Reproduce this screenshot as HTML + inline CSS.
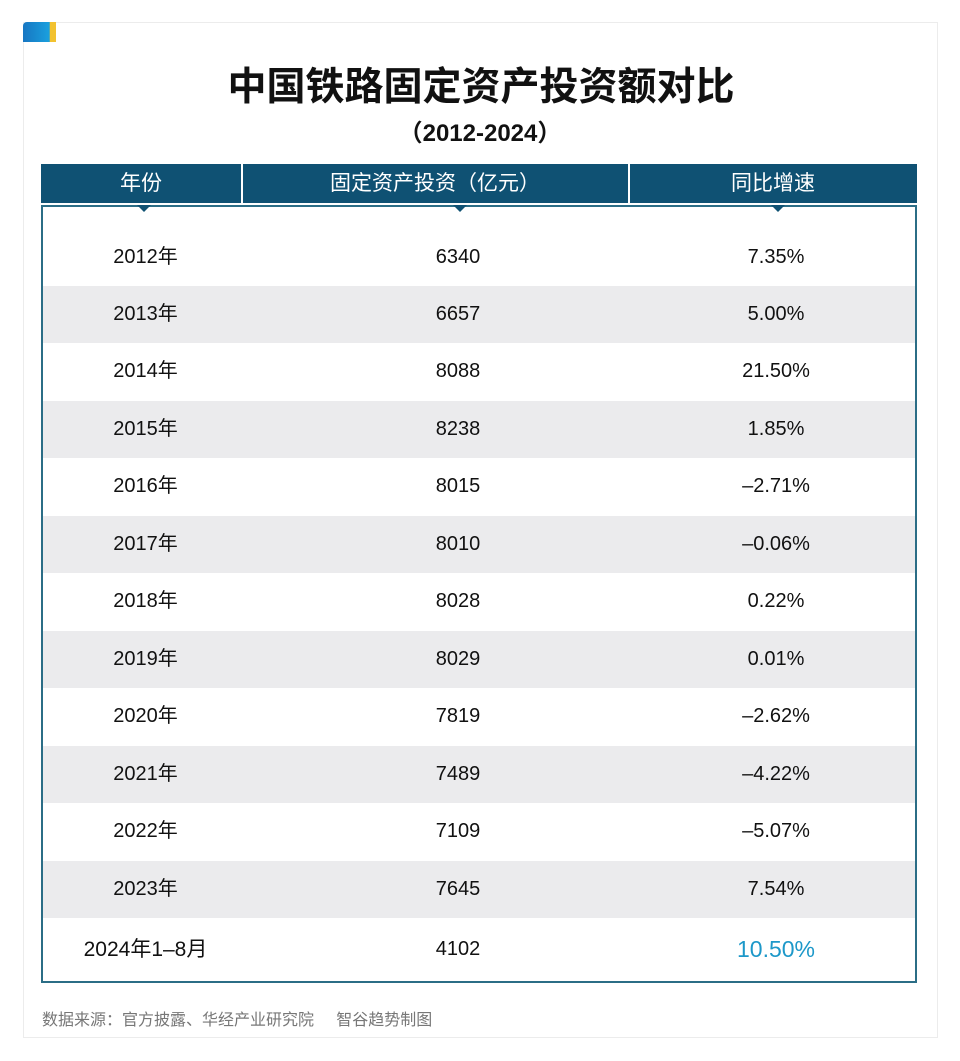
<!DOCTYPE html>
<html><head><meta charset="utf-8"><style>
body{margin:0;width:960px;height:1061px;background:#fff;font-family:"Liberation Sans","Noto Sans CJK SC",sans-serif;position:relative;overflow:hidden}
.card{position:absolute;left:23px;top:22px;width:915px;height:1016px;border:1px solid #ececec;box-sizing:border-box;background:#fff}
.logo{position:absolute;left:23px;top:22px;width:33px;height:20px;border-radius:4px 0 0 0;background:linear-gradient(90deg,#1776c2 0,#1aa0de 80%,#f2c230 82%,#f2c230 100%)}
.title{position:absolute;left:0;width:962px;top:56px;text-align:center;font-size:39px;font-weight:bold;color:#111}
.sub{position:absolute;left:0;width:960px;top:113px;text-align:center;font-size:24px;font-weight:bold;color:#111}
.head{position:absolute;left:41px;top:164px;width:876px;height:39px;background:#0f5173;color:#fff;font-size:21px}
.head div{position:absolute;top:0;height:39px;line-height:39px;text-align:center}
.body{position:absolute;left:41px;top:205px;width:876px;height:778px;border:2px solid #2b6d86;box-sizing:border-box}
.row{position:absolute;left:0;width:872px;font-size:20px;color:#111}
.row div{position:absolute;top:0;text-align:center;height:100%}
.gray{background:#ebebed}
.arrow{position:absolute;top:205px;width:0;height:0;border-left:7px solid transparent;border-right:7px solid transparent;border-top:7px solid #0f5173}
.foot{position:absolute;left:42px;top:1006px;font-size:16px;color:#777}
</style></head><body>
<div class="card"></div>
<div class="logo"></div>
<div class="title">中国铁路固定资产投资额对比</div>
<div class="sub">（2012-2024）</div>
<div class="head">
<div style="left:0;width:200px">年份</div>
<div style="left:200px;width:1.5px;background:#fff"></div>
<div style="left:201px;width:386px">固定资产投资（亿元）</div>
<div style="left:587px;width:1.5px;background:#fff"></div>
<div style="left:588px;width:288px">同比增速</div>
</div>
<div class="body" id="tb"></div>
<div class="arrow" style="left:137px"></div>
<div class="arrow" style="left:453px"></div>
<div class="arrow" style="left:771px"></div>
<div class="foot">数据来源：官方披露、华经产业研究院&nbsp;&nbsp;&nbsp;&nbsp;&nbsp;智谷趋势制图</div>
<script>
const years=["2012年","2013年","2014年","2015年","2016年","2017年","2018年","2019年","2020年","2021年","2022年","2023年","2024年1–8月"];
const investment=[6340,6657,8088,8238,8015,8010,8028,8029,7819,7489,7109,7645,4102];
const growth=["7.35%","5.00%","21.50%","1.85%","–2.71%","–0.06%","0.22%","0.01%","–2.62%","–4.22%","–5.07%","7.54%","10.50%"];
const tb=document.getElementById('tb');
const rowH=57.5, firstTop=21;
years.forEach((y,i)=>{
  const r=document.createElement('div');
  
  
  r.className='row'+(i%2===1?' gray':'');
  let top=i===0?0:firstTop+rowH*i;
  let h=i===0?firstTop+rowH:(i===years.length-1?774-top:rowH);
  r.style.top=top+'px';r.style.height=h+'px';
  const cells=[[0,205,y],[205,420,investment[i]],[578,310,growth[i]]];
  cells.forEach((c,j)=>{
    const d=document.createElement('div');
    
    
    d.style.left=c[0]+'px';d.style.width=c[1]+'px';
    d.style.lineHeight=h+'px';
    if(i===0){d.style.top=(firstTop+rowH/2-12)+'px';d.style.height='24px';d.style.lineHeight='24px';}
    if(i===years.length-1&&j===2){d.style.color='#1d98c9';d.style.fontSize='23px';}
    if(i===years.length-1&&j===0){d.style.fontSize='21px';}
    d.textContent=c[2];
    r.appendChild(d);
  });
  tb.appendChild(r);
});
</script>
</body></html>
